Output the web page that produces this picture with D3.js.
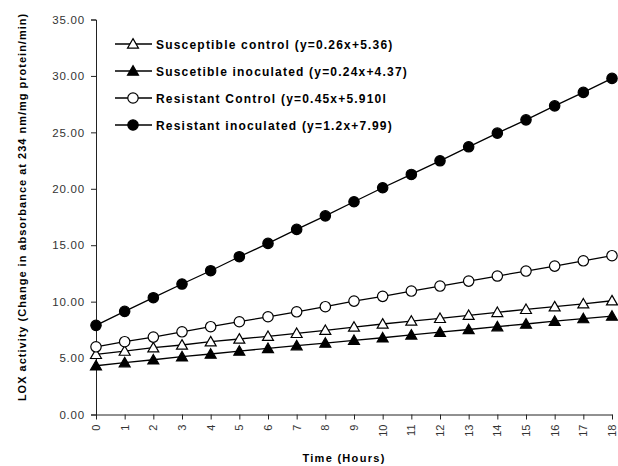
<!DOCTYPE html>
<html>
<head>
<meta charset="utf-8">
<script src="https://d3js.org/d3.v7.min.js"></script>
<style>
  body { margin: 0; background: #fff; }
  text { font-family: Arial, "Liberation Sans", sans-serif; }
</style>
</head>
<body>
<div id="chart"></div>
<script>
  // hours on the x axis
  let hours = [0, 1, 2, 3, 4, 5, 6, 7, 8, 9, 10, 11, 12, 13, 14, 15, 16, 17, 18];

  // LOX activity per series
  let suscControl = [5.33, 5.62, 5.92, 6.16, 6.45, 6.69, 6.93, 7.19, 7.46, 7.75, 8.02, 8.28, 8.52, 8.79, 9.05, 9.32, 9.55, 9.81, 10.08];
  let suscInoc = [4.32, 4.59, 4.85, 5.12, 5.36, 5.62, 5.86, 6.10, 6.33, 6.57, 6.80, 7.05, 7.29, 7.53, 7.78, 8.02, 8.27, 8.50, 8.72];
  let resControl = [6.00, 6.45, 6.86, 7.33, 7.78, 8.22, 8.66, 9.10, 9.55, 10.05, 10.47, 10.94, 11.38, 11.82, 12.27, 12.71, 13.15, 13.62, 14.07];
  let resInoc = [7.90, 9.14, 10.35, 11.56, 12.74, 13.98, 15.16, 16.40, 17.60, 18.85, 20.09, 21.27, 22.48, 23.72, 24.93, 26.11, 27.35, 28.54, 29.78];

  let seriesNames = [
    "Susceptible control (y=0.26x+5.36)",
    "Suscetible inoculated (y=0.24x+4.37)",
    "Resistant Control (y=0.45x+5.910l",
    "Resistant inoculated (y=1.2x+7.99)"
  ];
  let yTicks = [0, 5, 10, 15, 20, 25, 30, 35];

  let series = [
    { name: seriesNames[0], values: suscControl, shape: "triangle", fill: "white" },
    { name: seriesNames[1], values: suscInoc, shape: "triangle", fill: "black" },
    { name: seriesNames[2], values: resControl, shape: "circle", fill: "white" },
    { name: seriesNames[3], values: resInoc, shape: "circle", fill: "black" }
  ];

  let width = 618, height = 466;
  let svg = d3.select("#chart").append("svg")
    .attr("width", width)
    .attr("height", height);

  let x = d3.scaleLinear().domain([0, 18]).range([96, 612]);
  let y = d3.scaleLinear().domain([0, 35]).range([414.5, 19.5]);

  // y axis
  let yAxis = svg.append("g")
    .attr("transform", "translate(96,0)")
    .call(d3.axisLeft(y).tickValues(yTicks).tickSize(5).tickPadding(6).tickFormat(d3.format(".2f")));
  yAxis.select(".domain").attr("stroke", "#222");
  yAxis.selectAll(".tick line").attr("stroke", "#222");
  yAxis.selectAll("text")
    .attr("font-size", 11.5)
    .attr("fill", "#333")
    .attr("letter-spacing", 0.8)
    .attr("font-family", "Arial, 'Liberation Sans', sans-serif");

  // x axis
  let xAxis = svg.append("g")
    .attr("transform", "translate(0,414.5)")
    .call(d3.axisBottom(x).tickValues(hours).tickSize(5).tickSizeOuter(0));
  xAxis.select(".domain").attr("stroke", "#222");
  xAxis.selectAll(".tick line").attr("stroke", "#222");
  xAxis.selectAll("text")
    .attr("font-size", 11)
    .attr("fill", "#333")
    .attr("font-family", "Arial, 'Liberation Sans', sans-serif")
    .attr("transform", "rotate(-90)")
    .attr("text-anchor", "end")
    .attr("dy", "0.32em")
    .attr("x", -10)
    .attr("y", 0);

  // axis titles
  svg.append("text")
    .attr("x", 344)
    .attr("y", 462)
    .attr("text-anchor", "middle")
    .attr("font-size", 11)
    .attr("font-weight", "bold")
    .attr("letter-spacing", 1.3)
    .text("Time (Hours)");

  svg.append("text")
    .attr("transform", "translate(26,207) rotate(-90)")
    .attr("text-anchor", "middle")
    .attr("font-size", 11)
    .attr("font-weight", "bold")
    .attr("letter-spacing", 1.0)
    .text("LOX activity (Change in absorbance at 234 nm/mg protein/min)");

  let line = d3.line()
    .x((d, i) => x(hours[i]))
    .y(d => y(d));

  let triangle = d3.symbol().type(d3.symbolTriangle).size(52);

  function drawMarker(g, s) {
    if (s.shape === "circle") {
      g.append("circle")
        .attr("r", 5.2)
        .attr("fill", s.fill)
        .attr("stroke", "black")
        .attr("stroke-width", 1.2);
    } else {
      g.append("path")
        .attr("d", triangle())
        .attr("transform", "translate(0,1)")
        .attr("fill", s.fill)
        .attr("stroke", "black")
        .attr("stroke-width", 1.2);
    }
  }

  series.forEach(s => {
    svg.append("path")
      .datum(s.values)
      .attr("fill", "none")
      .attr("stroke", "black")
      .attr("stroke-width", 1.3)
      .attr("d", line);

    s.values.forEach((v, i) => {
      let g = svg.append("g").attr("transform", "translate(" + x(hours[i]) + "," + y(v) + ")");
      drawMarker(g, s);
    });
  });

  // legend
  let legend = svg.append("g");
  series.forEach((s, i) => {
    let ly = 44 + i * 27;
    let g = legend.append("g").attr("transform", "translate(0," + ly + ")");
    g.append("line")
      .attr("x1", 115).attr("x2", 152)
      .attr("y1", 0).attr("y2", 0)
      .attr("stroke", "black")
      .attr("stroke-width", 1.3);
    let m = g.append("g").attr("transform", "translate(133,0)");
    drawMarker(m, s);
    g.append("text")
      .attr("x", 156)
      .attr("y", 4.5)
      .attr("font-size", 12)
      .attr("font-weight", "bold")
      .attr("letter-spacing", 1.2)
      .text(s.name);
  });
</script>
</body>
</html>
